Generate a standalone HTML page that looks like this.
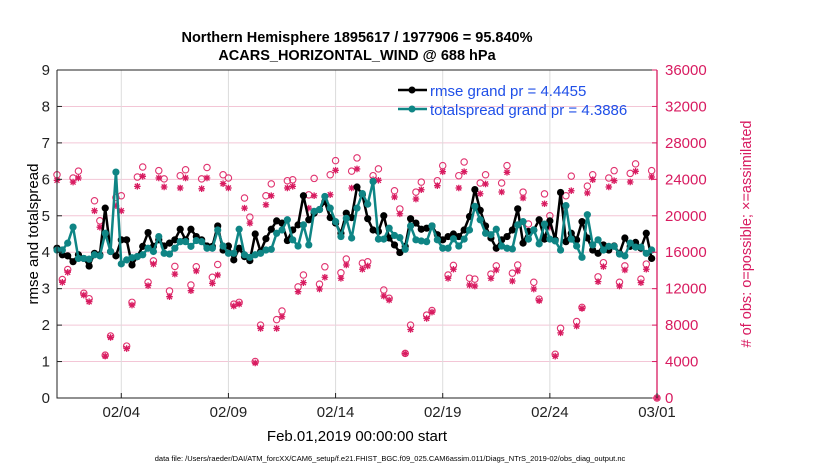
<!DOCTYPE html>
<html><head><meta charset="utf-8"><style>
body{margin:0;background:#fff;width:830px;height:470px;overflow:hidden;font-family:"Liberation Sans",sans-serif}
</style></head><body>
<svg id="chart" width="830" height="470" xmlns="http://www.w3.org/2000/svg" font-family="Liberation Sans, sans-serif">
<text x="357" y="42" text-anchor="middle" font-size="14.5" font-weight="bold">Northern Hemisphere 1895617 / 1977906 = 95.840%</text>
<text x="357" y="60" text-anchor="middle" font-size="14.5" font-weight="bold">ACARS_HORIZONTAL_WIND @ 688 hPa</text>
<g id="grid"></g>
<g id="obs"></g>
<g id="series"></g>
<g id="axes"></g>
<g>
<line x1="398" y1="90" x2="427" y2="90" stroke="#000" stroke-width="2.5"/><circle cx="412" cy="90" r="3.5" fill="#000"/>
<text x="430" y="96" font-size="15" fill="#1f4fe8">rmse grand pr = 4.4455</text>
<line x1="398" y1="109" x2="427" y2="109" stroke="#0f8585" stroke-width="2.5"/><circle cx="412" cy="109" r="3.5" fill="#0f8585"/>
<text x="430" y="115" font-size="15" fill="#1f4fe8">totalspread grand pr = 4.3886</text>
</g>
<text transform="translate(38,234) rotate(-90)" text-anchor="middle" font-size="15">rmse and totalspread</text>
<text transform="translate(751,234) rotate(-90)" text-anchor="middle" font-size="14.5" fill="#d81b60">&#35; of obs: o=possible; &#215;=assimilated</text>
<text x="357" y="441" text-anchor="middle" font-size="15">Feb.01,2019 00:00:00 start</text>
<text x="390" y="461" text-anchor="middle" font-size="7.5">data file: /Users/raeder/DAI/ATM_forcXX/CAM6_setup/f.e21.FHIST_BGC.f09_025.CAM6assim.011/Diags_NTrS_2019-02/obs_diag_output.nc</text>
</svg>
<script>
const rmse=[4.11,3.93,3.90,3.74,3.93,3.83,3.62,3.97,3.93,5.21,4.02,3.90,4.34,4.34,3.65,3.88,4.16,4.54,4.16,4.34,4.17,4.25,4.34,4.63,4.34,4.63,4.43,4.34,4.17,
4.16,4.72,4.06,4.17,3.79,4.11,3.88,3.77,4.50,4.02,4.37,4.63,4.86,4.80,4.32,4.61,4.75,5.55,4.89,5.07,5.17,5.39,4.95,4.80,4.52,5.07,4.95,5.79,
5.58,4.92,4.61,4.57,5.00,4.39,4.20,3.99,4.16,4.92,4.80,4.63,4.66,4.72,4.48,4.34,4.43,4.50,4.43,4.61,4.98,5.72,5.15,4.72,4.39,4.11,4.34,4.43,
4.61,5.19,4.25,4.57,4.61,4.89,4.36,4.86,4.34,5.64,4.29,4.52,4.34,4.84,4.39,4.06,3.97,4.20,4.06,4.17,3.97,4.39,4.16,4.27,4.11,4.52,3.83];
const spread=[4.06,4.06,4.25,4.69,3.83,3.83,3.81,3.93,3.90,4.52,4.02,6.20,3.68,3.79,3.85,3.88,3.93,4.11,4.02,4.43,3.97,3.95,4.11,4.29,4.29,4.16,4.32,4.29,4.11,
4.11,4.61,4.17,3.97,3.97,4.63,3.93,3.86,3.93,3.97,4.06,4.08,4.52,4.61,4.89,4.34,4.17,4.75,4.20,5.12,5.17,5.53,5.21,4.84,4.43,4.93,4.39,5.21,
5.61,5.32,5.94,4.36,4.36,4.66,4.46,4.40,4.08,4.72,4.34,4.31,4.29,4.72,4.34,4.11,4.11,4.37,4.17,4.36,4.61,5.26,4.89,4.52,4.48,4.63,4.17,4.11,
4.09,4.75,4.84,4.36,4.61,4.23,4.77,4.36,4.31,4.06,5.28,4.36,4.17,3.86,5.03,4.20,4.34,4.06,4.16,4.16,3.95,3.90,4.25,4.14,4.14,3.97,4.06];
const possible=[24500,13000,14100,24150,24900,11500,10900,21650,19450,4700,6800,22000,22200,5700,10500,24250,25350,12700,15050,24950,24050,11750,14450,24400,25050,12400,14400,24050,25300,
13250,14650,24500,24150,10300,10500,21950,19850,4000,8000,22200,23500,8600,9550,23850,23950,12200,13500,22300,24100,12500,14400,24500,26050,13750,15250,24900,26350,
14800,14950,24400,25150,11850,10950,22750,20750,4900,8000,22600,23700,9100,9600,23850,25500,13500,14550,24400,25900,13150,13050,23600,24500,13600,14500,23600,25500,
13700,14600,22600,19100,12700,10850,22400,20000,4800,7650,22200,24350,8400,9950,23250,24500,13300,14850,24150,24950,12700,14500,24650,25700,13050,14700,24950,0];
const assimilated=[23890,12700,13800,23700,24150,11300,10570,20550,18750,4600,6650,21100,20550,5430,10200,23230,24330,12330,14700,24150,23160,11120,13600,23050,24150,11780,13950,22970,24150,
12590,13500,23520,23050,10090,10310,20840,19190,3850,7630,21210,22200,7630,8920,23050,23230,11670,12660,20840,22200,11960,13250,22310,24990,13140,14600,23050,25140,
14130,14500,23960,23890,11190,10750,22060,20220,4880,7520,21840,22860,8730,9430,23300,24840,13140,14130,23050,24840,12400,12290,22420,23490,13140,14050,22610,24770,
12840,13950,21950,18280,11960,10680,21320,18750,4590,7150,21100,22750,7890,9830,22500,23960,12770,14420,23160,23850,12290,14050,23710,24880,12660,14130,24260,0];
const xTickLabels=["02/04","02/09","02/14","02/19","02/24","03/01"];
const xTickDays=[3,8,13,18,23,28];
const leftTicks=[0,1,2,3,4,5,6,7,8,9];
const rightTicks=[0,4000,8000,12000,16000,20000,24000,28000,32000,36000];

const NS="http://www.w3.org/2000/svg";
const L=57,R=657,T=70,B=398;
const xDay=d=>L+(d/28)*(R-L);
const xIdx=i=>xDay(i*0.25);
const yL=v=>B-(v/9)*(B-T);
const yR=v=>B-(v/36000)*(B-T);
function mk(tag,attrs,parent){const e=document.createElementNS(NS,tag);for(const k in attrs)e.setAttribute(k,attrs[k]);parent.appendChild(e);return e;}
const grid=document.getElementById('grid'),obs=document.getElementById('obs'),ser=document.getElementById('series'),ax=document.getElementById('axes');
rightTicks.forEach(t=>{if(t>0&&t<36000){const l=mk('line',{x1:L,x2:R,y1:yR(t),y2:yR(t),stroke:'#f3c6d6','stroke-width':1},grid);

}});
xTickDays.forEach(d=>{if(d<28){const l=mk('line',{x1:xDay(d),x2:xDay(d),y1:T,y2:B,stroke:'#dcdcdc','stroke-width':1},grid);

}});
possible.forEach((v,i)=>{const c=mk('circle',{cx:xIdx(i),cy:yR(v),r:3.2,fill:'none',stroke:'#e0336f','stroke-width':1.1},obs);

});
assimilated.forEach((v,i)=>{const x=xIdx(i),y=yR(v),s=3.3;
const d=`M${x-s},${y}H${x+s}M${x},${y-s}V${y+s}M${x-s*0.75},${y-s*0.75}L${x+s*0.75},${y+s*0.75}M${x-s*0.75},${y+s*0.75}L${x+s*0.75},${y-s*0.75}`;
const p=mk('path',{d:d,stroke:'#d81b60','stroke-width':1.3,fill:'none'},obs);

});
function series(arr,color,name){
 const p=mk('polyline',{points:arr.map((v,i)=>xIdx(i)+','+yL(v)).join(' '),fill:'none',stroke:color,'stroke-width':2.5,'stroke-linejoin':'round'},ser);
 
 
 arr.forEach((v,i)=>{const c=mk('circle',{cx:xIdx(i),cy:yL(v),r:3.6,fill:color},ser);
 
 });
}
series(rmse,'#000','rmse');
series(spread,'#0f8585','totalspread');
const fr=mk('path',{d:`M${L},${T}V${B}H${R}`,fill:'none',stroke:'#222','stroke-width':1},ax);


mk('line',{x1:L,x2:R,y1:T,y2:T,stroke:'#222','stroke-width':1},ax);
const ra=mk('line',{x1:R,x2:R,y1:T,y2:B,stroke:'#d81b60','stroke-width':1.3},ax);


leftTicks.forEach(t=>{mk('line',{x1:L,x2:L+5,y1:yL(t),y2:yL(t),stroke:'#222'},ax);
const tx=mk('text',{x:L-7,y:yL(t)+5,'text-anchor':'end','font-size':15,fill:'#222'},ax);tx.textContent=t;

});
rightTicks.forEach(t=>{mk('line',{x1:R-5,x2:R,y1:yR(t),y2:yR(t),stroke:'#d81b60'},ax);
const tx=mk('text',{x:R+8,y:yR(t)+5,'font-size':15,fill:'#d81b60'},ax);tx.textContent=t;

});
xTickDays.forEach((d,k)=>{mk('line',{x1:xDay(d),x2:xDay(d),y1:B,y2:B-5,stroke:'#222'},ax);
const tx=mk('text',{x:xDay(d),y:B+19,'text-anchor':'middle','font-size':15,fill:'#222'},ax);tx.textContent=xTickLabels[k];

});
</script>
</body></html>
